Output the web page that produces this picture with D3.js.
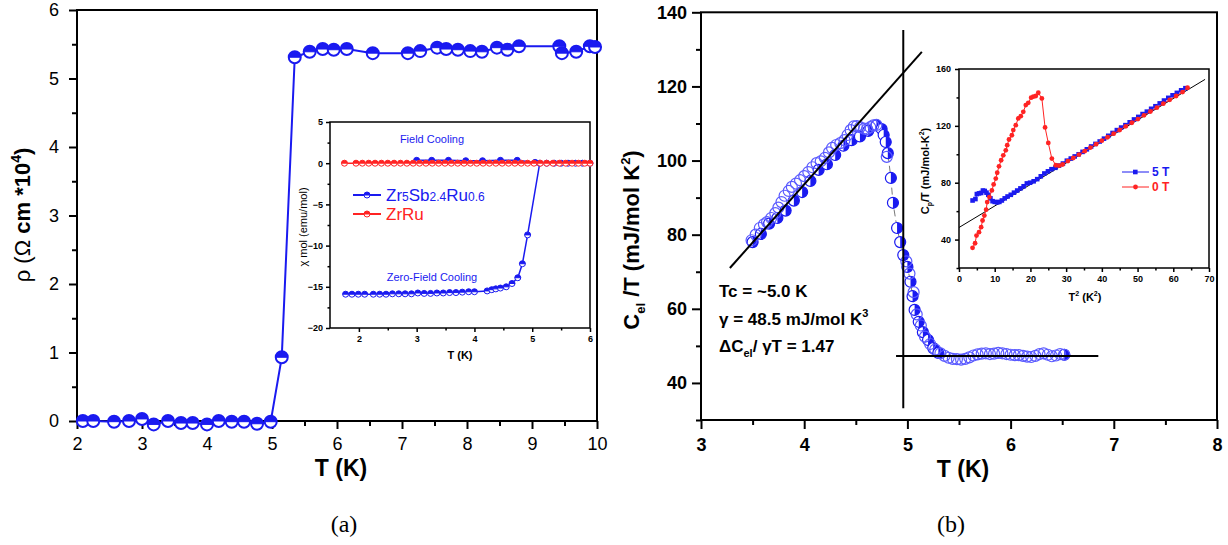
<!DOCTYPE html>
<html>
<head>
<meta charset="utf-8">
<script src="https://cdnjs.cloudflare.com/ajax/libs/d3/7.8.5/d3.min.js"></script>
<style>
  body { margin: 0; background: #fff; }
  text { font-family: "Liberation Sans", Arial, sans-serif; }
</style>
</head>
<body>
<div id="chart"></div>
<script>
// ---------- data: panel (a) resistivity ----------
var rhoT = [2.09, 2.25, 2.57, 2.8, 3.0, 3.18, 3.4, 3.6, 3.78, 4.0, 4.18, 4.38, 4.57, 4.77, 4.98,
    5.15, 5.35, 5.58, 5.78, 5.95, 6.15, 6.55, 7.09, 7.28, 7.54, 7.68, 7.86, 8.05, 8.23, 8.46, 8.62,
    8.8, 9.42, 9.46, 9.68, 9.89, 9.97];
var rhoV = [0.0, 0.0, -0.01, 0.0, 0.03, -0.05, 0.0, -0.03, -0.03, -0.05, 0.0, -0.01, -0.01, -0.04, -0.01,
    0.93, 5.31, 5.39, 5.43, 5.42, 5.43, 5.37, 5.37, 5.40, 5.45, 5.43, 5.42, 5.40, 5.39, 5.45, 5.42,
    5.47, 5.47, 5.37, 5.39, 5.47, 5.46];

// inset (a): susceptibility
var zfcT = [1.77, 1.88, 1.99, 2.1, 2.25, 2.36, 2.47, 2.58, 2.69, 2.8, 2.91, 3.02, 3.13, 3.24, 3.35,
    3.46, 3.57, 3.68, 3.79, 3.9, 4.0, 4.22, 4.3, 4.37, 4.45, 4.55, 4.65, 4.75, 4.83, 4.92, 5.13,
    5.25, 5.38, 5.5, 5.62, 5.75, 5.87, 6.0];
var zfcV = [-15.9, -15.9, -15.9, -15.9, -15.9, -15.9, -15.9, -15.85, -15.85, -15.85, -15.85, -15.75, -15.8, -15.8, -15.75,
    -15.75, -15.7, -15.7, -15.65, -15.6, -15.6, -15.5, -15.35, -15.25, -15.15, -15.0, -14.6, -13.9, -12.2, -8.7, 0.0,
    0.0, 0.0, 0.0, 0.0, 0.0, 0.0, 0.0];
var fcT = [3.0, 3.26, 3.55, 3.85, 4.14, 4.45, 4.74, 5.05];
var fcV = [0.35, 0.35, 0.35, 0.3, 0.3, 0.35, 0.35, 0.1];
var zrRuT = [1.75, 1.95, 2.06, 2.17, 2.28, 2.39, 2.5, 2.61, 2.72, 2.83, 2.94, 3.05, 3.16, 3.27, 3.38,
    3.49, 3.6, 3.71, 3.82, 3.93, 4.04, 4.15, 4.26, 4.37, 4.48, 4.59, 4.7, 4.81, 4.92, 5.03, 5.14,
    5.25, 5.36, 5.47, 5.58, 5.69, 5.8, 5.91, 6.0];
var zrRuV = [0, 0, 0, 0, 0, 0, 0, 0, 0, 0, 0, 0, 0, 0, 0,
    0, 0, 0, 0, 0, 0, 0, 0, 0, 0, 0, 0, 0, 0, 0, 0,
    0, 0, 0, 0, 0, 0, 0, 0];

// ---------- data: panel (b) specific heat ----------
var cFillT = [3.50, 3.58, 3.66, 3.74, 3.82, 3.90, 3.98, 4.06, 4.14, 4.22, 4.30, 4.38, 4.46, 4.54, 4.62,
    4.70, 4.75, 4.77, 4.79, 4.81, 4.84, 4.86, 4.90, 4.93, 4.96, 5.00, 5.03, 5.05, 5.07, 5.11, 5.15,
    5.20, 5.25, 5.30, 6.52];
var cFillV = [78.0, 80.2, 83.0, 84.5, 86.5, 89.2, 91.5, 94.5, 97.5, 99.0, 101.5, 104.0, 105.5, 106.5, 108.0,
    109.5, 108.5, 106.9, 105.0, 102.0, 95.3, 88.6, 81.8, 78.0, 74.5, 71.3, 67.3, 63.4, 59.7, 56.5, 53.7,
    51.6, 49.4, 48.1, 47.6];
var cOpenT = [3.49, 3.53, 3.57, 3.61, 3.64, 3.68, 3.72, 3.75, 3.78, 3.81, 3.85, 3.88, 3.92, 3.96, 4.00,
    4.04, 4.08, 4.12, 4.16, 4.20, 4.24, 4.27, 4.31, 4.35, 4.39, 4.42, 4.45, 4.48, 4.51, 4.54, 4.58,
    4.61, 4.64, 4.67, 4.70, 4.80, 4.99, 5.02, 5.06, 5.09, 5.13, 5.17, 5.22, 5.27, 5.32, 5.36, 5.40,
    5.44, 5.48, 5.52, 5.56, 5.60, 5.64, 5.68, 5.72, 5.76, 5.80, 5.84, 5.88, 5.92, 5.96, 6.00, 6.04,
    6.08, 6.12, 6.16, 6.20, 6.24, 6.28, 6.32, 6.36, 6.40, 6.44, 6.48, 6.52];
var cOpenV = [78.5, 80.0, 81.8, 82.8, 83.4, 84.5, 85.8, 87.3, 88.8, 90.5, 91.8, 92.9, 93.8, 94.7, 95.8,
    96.9, 98.2, 99.3, 99.8, 100.7, 102.2, 103.4, 104.2, 104.7, 105.5, 106.9, 108.2, 109.2, 109.3, 109.0, 108.6,
    108.5, 109.0, 109.5, 109.6, 101.0, 72.8, 69.5, 64.5, 58.5, 55.5, 52.5, 50.5, 49.0, 48.0, 47.3, 46.8,
    46.5, 46.4, 46.3, 46.5, 46.9, 47.4, 47.7, 47.9, 48.0, 47.8, 47.9, 48.1, 48.0, 47.8, 47.6, 47.5,
    47.5, 47.3, 47.1, 47.0, 47.3, 47.8, 48.0, 47.6, 47.2, 47.4, 47.8, 47.6];
var fitT = [3.28, 5.14], fitV = [71.0, 129.3];
var tcLineT = [4.96, 4.96], tcLineV = [33.2, 135.2];
var normLineT = [4.89, 6.85], normLineV = [47.3, 47.3];

// inset (b): Cp/T vs T^2
var zeroT2 = [3.8, 4.5, 4.9, 5.6, 6.2, 6.6, 7.1, 7.6, 7.9, 8.5, 9.2, 9.7, 10.3, 10.7, 11.2, 11.8, 12.4,
    13.1, 13.5, 14.0, 14.8, 15.2, 15.9, 16.6, 17.3, 18.0, 18.7, 19.4, 20.2, 20.8, 21.5, 22.2, 23.2,
    24.1, 25.0, 26.0, 27.1, 28.0, 29.0, 30.5, 32.0, 33.6, 35.2, 36.8, 38.4, 40.0, 41.6, 43.3, 45.0,
    46.7, 48.4, 50.1, 51.8, 53.6, 55.4, 57.2, 59.0, 60.8, 62.6, 64.0];
var zeroV = [34.2, 37.4, 42.8, 45.2, 48.7, 53.4, 56.9, 61.0, 66.4, 69.9, 74.6, 78.8, 82.9, 87.0, 91.5, 95.8, 99.3,
    102.8, 106.4, 110.4, 113.4, 117.0, 120.5, 125.2, 126.8, 129.9, 134.6, 136.2, 139.8, 140.5, 141.0, 143.3, 139.3,
    118.9, 108.0, 97.0, 92.3, 92.0, 92.8, 95.2, 97.4, 99.8, 102.2, 104.7, 107.1, 109.6, 112.0, 114.5, 117.1,
    119.7, 122.2, 124.8, 127.4, 130.1, 132.8, 135.6, 138.3, 141.0, 143.8, 146.8];
var fiveT2 = [3.8, 4.6, 5.0, 5.6, 6.2, 6.7, 7.2, 7.7, 8.2, 8.8, 9.4, 10.0, 10.7, 11.3, 12.0, 12.8, 13.6,
    14.5, 15.4, 16.3, 17.2, 18.1, 19.0, 19.9, 20.9, 21.9, 22.9, 23.9, 24.9, 25.9, 27.0, 28.0, 29.1,
    30.2, 31.3, 32.4, 33.5, 34.6, 35.8, 37.0, 38.2, 39.4, 40.6, 41.8, 43.0, 44.2, 45.4, 46.6, 47.8,
    49.0, 50.2, 51.4, 52.6, 53.8, 55.0, 56.2, 57.4, 58.6, 59.8, 61.0, 62.2, 63.4];
var fiveV = [67.5, 68.5, 72.0, 72.5, 72.8, 74.5, 74.2, 73.0, 71.5, 69.0, 67.0, 66.5, 66.2, 66.5, 67.5, 69.0, 70.3,
    71.5, 73.0, 74.5, 76.0, 77.5, 79.5, 80.0, 81.0, 82.5, 84.5, 86.5, 88.0, 89.5, 90.5, 92.0, 93.5,
    95.5, 97.0, 98.5, 100.0, 101.7, 103.5, 105.5, 107.3, 109.0, 111.0, 113.0, 115.0, 117.0, 118.8, 120.5, 122.5,
    124.5, 126.3, 128.3, 130.0, 132.0, 133.8, 135.8, 137.8, 139.7, 141.5, 143.2, 145.0, 146.5];
var gammaFitT2 = [0, 68.9], gammaFitV = [48.5, 152.7];

// tick values
var aXTicks = [2, 3, 4, 5, 6, 7, 8, 9, 10], aXMinor = [2.5, 3.5, 4.5, 5.5, 6.5, 7.5, 8.5, 9.5];
var aYTicks = [0, 1, 2, 3, 4, 5, 6], aYMinor = [0.5, 1.5, 2.5, 3.5, 4.5, 5.5];
var iaXTicks = [2, 3, 4, 5, 6], iaXMinor = [2.5, 3.5, 4.5, 5.5];
var iaYTicks = [5, 0, -5, -10, -15, -20], iaYMinor = [2.5, -2.5, -7.5, -12.5, -17.5];
var bXTicks = [3, 4, 5, 6, 7, 8], bXMinor = [3.5, 4.5, 5.5, 6.5, 7.5];
var bYTicks = [40, 60, 80, 100, 120, 140], bYMinor = [30, 50, 70, 90, 110, 130];
var ibXTicks = [0, 10, 20, 30, 40, 50, 60, 70], ibXMinor = [5, 15, 25, 35, 45, 55, 65];
var ibYTicks = [40, 80, 120, 160], ibYMinor = [20, 60, 100, 140];

var blue = "#1a1af0", lightBlue = "#5a5aff", red = "#ff2323";

var svg = d3.select("#chart").append("svg")
    .attr("width", 1228).attr("height", 545)
    .style("background", "#fff");

function zip(a, b) { return a.map((v, i) => [v, b[i]]); }

var fmt = d3.format("~g");

// draw a frame + major/minor ticks
function drawAxes(g, x, y, o) {
    var xr = x.range(), yr = y.range();
    var gx = g.append("g").attr("transform", `translate(0,${yr[0]})`)
        .call(d3.axisBottom(x).tickValues(o.xTicks).tickFormat(fmt).tickSize(o.major).tickPadding(o.xPad));
    g.append("g").attr("transform", `translate(0,${yr[0]})`)
        .call(d3.axisBottom(x).tickValues(o.xMinor).tickSize(o.minor).tickFormat(""));
    var gy = g.append("g").attr("transform", `translate(${xr[0]},0)`)
        .call(d3.axisLeft(y).tickValues(o.yTicks).tickFormat(fmt).tickSize(o.major).tickPadding(o.yPad));
    g.append("g").attr("transform", `translate(${xr[0]},0)`)
        .call(d3.axisLeft(y).tickValues(o.yMinor).tickSize(o.minor).tickFormat(""));
    g.selectAll(".domain").remove();
    g.selectAll(".tick line").attr("stroke", "#000").attr("stroke-width", o.sw);
    [gx, gy].forEach(a => a.selectAll("text")
        .style("font-size", o.fs + "px")
        .style("font-weight", o.bold ? "bold" : "normal")
        .attr("fill", "#000"));
    g.append("rect")
        .attr("x", xr[0]).attr("y", yr[1])
        .attr("width", xr[1] - xr[0]).attr("height", yr[0] - yr[1])
        .attr("fill", "none").attr("stroke", "#000").attr("stroke-width", o.sw);
}

function halfMarks(g, pts, x, y, r, col, half, sw) {
    var arc = half == "top"
        ? `M${-r},0 A${r},${r} 0 0 1 ${r},0 Z`
        : `M0,${-r} A${r},${r} 0 0 1 0,${r} Z`;
    var m = g.selectAll(null).data(pts).enter().append("g")
        .attr("transform", d => `translate(${x(d[0])},${y(d[1])})`);
    m.append("circle").attr("r", r).attr("fill", "#fff").attr("stroke", col).attr("stroke-width", sw);
    m.append("path").attr("d", arc).attr("fill", col);
    if (half == "top") {
        m.append("line").attr("x1", -r).attr("x2", r).attr("stroke", col).attr("stroke-width", 1);
    }
}

// ================= panel (a) =================
var xa = d3.scaleLinear().domain([2, 10]).range([77, 597]);
var ya = d3.scaleLinear().domain([0, 6]).range([421, 10]);
var ga = svg.append("g");
drawAxes(ga, xa, ya, {
    xTicks: aXTicks, xMinor: aXMinor, yTicks: aYTicks, yMinor: aYMinor,
    major: 8, minor: 5, xPad: 8, yPad: 10, sw: 2, fs: 18, bold: false
});
var rhoPts = zip(rhoT, rhoV);
ga.append("path").datum(rhoPts)
    .attr("d", d3.line().x(d => xa(d[0])).y(d => ya(d[1])))
    .attr("fill", "none").attr("stroke", blue).attr("stroke-width", 2);
halfMarks(ga, rhoPts, xa, ya, 6, blue, "top", 2);

ga.append("text").attr("x", 341).attr("y", 476).attr("text-anchor", "middle")
    .style("font-size", "23px").style("font-weight", "bold").text("T (K)");
var yla = ga.append("text").attr("transform", "translate(30,215) rotate(-90)")
    .attr("text-anchor", "middle").style("font-size", "22px");
yla.append("tspan").text("ρ (Ω ");
yla.append("tspan").style("font-weight", "bold").text("cm *10");
yla.append("tspan").style("font-weight", "bold").style("font-size", "14px").attr("dy", -9).text("4");
yla.append("tspan").style("font-weight", "bold").attr("dy", 9).text(")");

// inset (a)
var xia = d3.scaleLinear().domain([1.5, 6]).range([330, 590]);
var yia = d3.scaleLinear().domain([-20, 5]).range([328, 122]);
var gia = svg.append("g");
gia.append("rect").attr("x", 330).attr("y", 122).attr("width", 260).attr("height", 206).attr("fill", "#fff");
drawAxes(gia, xia, yia, {
    xTicks: iaXTicks, xMinor: iaXMinor, yTicks: iaYTicks, yMinor: iaYMinor,
    major: 4, minor: 2.5, xPad: 4, yPad: 3, sw: 1.5, fs: 9, bold: true
});
var lineIa = d3.line().x(d => xia(d[0])).y(d => yia(d[1]));
var zrRuPts = zip(zrRuT, zrRuV), zfcPts = zip(zfcT, zfcV), fcPts = zip(fcT, fcV);
gia.append("path").datum(fcPts).attr("d", lineIa).attr("fill", "none").attr("stroke", blue).attr("stroke-width", 1.5);
gia.append("path").datum(zfcPts).attr("d", lineIa).attr("fill", "none").attr("stroke", blue).attr("stroke-width", 1.5);
gia.append("path").datum(zrRuPts).attr("d", lineIa).attr("fill", "none").attr("stroke", red).attr("stroke-width", 1.5);
halfMarks(gia, fcPts, xia, yia, 3, blue, "top", 1);
halfMarks(gia, zfcPts, xia, yia, 3, blue, "top", 1);
halfMarks(gia, zrRuPts, xia, yia, 3, red, "top", 1);

gia.append("text").attr("x", 432).attr("y", 143).attr("text-anchor", "middle")
    .attr("fill", blue).style("font-size", "11px").text("Field Cooling");
gia.append("text").attr("x", 432).attr("y", 281).attr("text-anchor", "middle")
    .attr("fill", blue).style("font-size", "11px").text("Zero-Field Cooling");
gia.append("text").attr("x", 460).attr("y", 359).attr("text-anchor", "middle")
    .style("font-size", "11px").style("font-weight", "bold").text("T (K)");
gia.append("text").attr("transform", "translate(307,227) rotate(-90)").attr("text-anchor", "middle")
    .style("font-size", "11px").text("χ mol (emu/mol)");

// legend (a)
[[195, blue], [214, red]].forEach(function (l) {
    gia.append("line").attr("x1", 353).attr("x2", 381).attr("y1", l[0]).attr("y2", l[0])
        .attr("stroke", l[1]).attr("stroke-width", 2);
    halfMarks(gia, [[0, 0]], v => 367, v => l[0], 3, l[1], "top", 1);
});
var lg1 = gia.append("text").attr("x", 386).attr("y", 201).attr("fill", blue).style("font-size", "17px");
[["Zr", 17], ["5", 12], ["Sb", 17], ["2.4", 12], ["Ru", 17], ["0.6", 12]].forEach(function (p) {
    lg1.append("tspan").style("font-size", p[1] + "px").text(p[0]);
});
gia.append("text").attr("x", 386).attr("y", 220).attr("fill", red).style("font-size", "17px").text("ZrRu");

// ================= panel (b) =================
var xb = d3.scaleLinear().domain([3, 8]).range([701, 1217]);
var yb = d3.scaleLinear().domain([30, 140]).range([420, 12.3]);
var gb = svg.append("g");
drawAxes(gb, xb, yb, {
    xTicks: bXTicks, xMinor: bXMinor, yTicks: bYTicks, yMinor: bYMinor,
    major: 9, minor: 5, xPad: 9, yPad: 5, sw: 2, fs: 18, bold: true
});
var lineB = d3.line().x(d => xb(d[0])).y(d => yb(d[1]));
var fillPts = zip(cFillT, cFillV), openPts = zip(cOpenT, cOpenV);
gb.append("path").datum(fillPts.filter(d => d[0] >= 4.7 && d[0] <= 5.3)).attr("d", lineB)
    .attr("fill", "none").attr("stroke", "#555").attr("stroke-width", 0.8).attr("stroke-dasharray", "7,4");
halfMarks(gb, fillPts, xb, yb, 5.5, blue, "right", 1.2);
gb.selectAll(null).data(openPts).enter().append("circle")
    .attr("cx", d => xb(d[0])).attr("cy", d => yb(d[1])).attr("r", 5.5)
    .attr("fill", "none").attr("stroke", lightBlue).attr("stroke-width", 1.2);

[[fitT, fitV], [tcLineT, tcLineV], [normLineT, normLineV]].forEach(function (l) {
    gb.append("path").datum(zip(l[0], l[1])).attr("d", lineB)
        .attr("fill", "none").attr("stroke", "#000").attr("stroke-width", 2);
});

gb.append("text").attr("x", 963).attr("y", 477).attr("text-anchor", "middle")
    .style("font-size", "23px").style("font-weight", "bold").text("T (K)");
var ylb = gb.append("text").attr("transform", "translate(639,240) rotate(-90)")
    .attr("text-anchor", "middle").style("font-size", "22px").style("font-weight", "bold");
ylb.append("tspan").text("C");
ylb.append("tspan").style("font-size", "13px").attr("dy", 6).text("el");
ylb.append("tspan").attr("dy", -6).text(" /T  (mJ/mol K");
ylb.append("tspan").style("font-size", "13px").attr("dy", -9).text("2");
ylb.append("tspan").attr("dy", 9).text(")");

var ann = { fs: "17px" };
gb.append("text").attr("x", 719).attr("y", 297).style("font-size", ann.fs).style("font-weight", "bold")
    .text("Tc = ~5.0 K");
var t2 = gb.append("text").attr("x", 719).attr("y", 325).style("font-size", ann.fs).style("font-weight", "bold");
t2.append("tspan").text("γ = 48.5 mJ/mol K");
t2.append("tspan").style("font-size", "11px").attr("dy", -8).text("3");
var t3 = gb.append("text").attr("x", 719).attr("y", 352).style("font-size", ann.fs).style("font-weight", "bold");
t3.append("tspan").text("ΔC");
t3.append("tspan").style("font-size", "11px").attr("dy", 5).text("el");
t3.append("tspan").attr("dy", -5).text("/ γT = 1.47");

// inset (b)
var xib = d3.scaleLinear().domain([0, 70]).range([959, 1209]);
var yib = d3.scaleLinear().domain([20, 160]).range([268, 69]);
var gib = svg.append("g");
gib.append("rect").attr("x", 959).attr("y", 69).attr("width", 250).attr("height", 199).attr("fill", "#fff");
drawAxes(gib, xib, yib, {
    xTicks: ibXTicks, xMinor: ibXMinor, yTicks: ibYTicks, yMinor: ibYMinor,
    major: 4, minor: 2.5, xPad: 4, yPad: 4, sw: 1.5, fs: 9, bold: true
});
var lineIb = d3.line().x(d => xib(d[0])).y(d => yib(d[1]));
gib.append("path").datum(zip(gammaFitT2, gammaFitV)).attr("d", lineIb)
    .attr("fill", "none").attr("stroke", "#000").attr("stroke-width", 1);
var fivePts = zip(fiveT2, fiveV), zeroPts = zip(zeroT2, zeroV);
gib.append("path").datum(fivePts).attr("d", lineIb).attr("fill", "none").attr("stroke", blue).attr("stroke-width", 1);
gib.selectAll(null).data(fivePts).enter().append("rect")
    .attr("x", d => xib(d[0]) - 2.3).attr("y", d => yib(d[1]) - 2.3)
    .attr("width", 4.6).attr("height", 4.6).attr("fill", blue);
gib.append("path").datum(zeroPts).attr("d", lineIb).attr("fill", "none").attr("stroke", red).attr("stroke-width", 1);
gib.selectAll(null).data(zeroPts).enter().append("circle")
    .attr("cx", d => xib(d[0])).attr("cy", d => yib(d[1])).attr("r", 2.4).attr("fill", red);

// legend (b)
gib.append("line").attr("x1", 1122).attr("x2", 1149).attr("y1", 172).attr("y2", 172).attr("stroke", blue).attr("stroke-width", 1);
gib.append("rect").attr("x", 1133).attr("y", 169.7).attr("width", 4.6).attr("height", 4.6).attr("fill", blue);
gib.append("text").attr("x", 1152).attr("y", 176).attr("fill", blue).style("font-size", "12px").style("font-weight", "bold").text("5 T");
gib.append("line").attr("x1", 1122).attr("x2", 1149).attr("y1", 187).attr("y2", 187).attr("stroke", red).attr("stroke-width", 1);
gib.append("circle").attr("cx", 1135.5).attr("cy", 187).attr("r", 2.4).attr("fill", red);
gib.append("text").attr("x", 1152).attr("y", 191).attr("fill", red).style("font-size", "12px").style("font-weight", "bold").text("0 T");

gib.append("text").attr("x", 1085).attr("y", 301).attr("text-anchor", "middle")
    .style("font-size", "11px").style("font-weight", "bold")
    .call(t => {
        t.append("tspan").text("T");
        t.append("tspan").style("font-size", "7px").attr("dy", -5).text("2");
        t.append("tspan").attr("dy", 5).text(" (K");
        t.append("tspan").style("font-size", "7px").attr("dy", -5).text("2");
        t.append("tspan").attr("dy", 5).text(")");
    });
gib.append("text").attr("transform", "translate(929,171) rotate(-90)").attr("text-anchor", "middle")
    .style("font-size", "11px").style("font-weight", "bold")
    .call(t => {
        t.append("tspan").text("C");
        t.append("tspan").style("font-size", "7px").attr("dy", 3).text("p");
        t.append("tspan").attr("dy", -3).text("/T (mJ/mol-K");
        t.append("tspan").style("font-size", "7px").attr("dy", -5).text("2");
        t.append("tspan").attr("dy", 5).text(")");
    });

// panel captions
svg.append("text").attr("x", 344).attr("y", 532).attr("text-anchor", "middle")
    .style("font-family", "'Liberation Serif', 'Times New Roman', serif").style("font-size", "24px").text("(a)");
svg.append("text").attr("x", 951).attr("y", 532).attr("text-anchor", "middle")
    .style("font-family", "'Liberation Serif', 'Times New Roman', serif").style("font-size", "24px").text("(b)");
</script>
</body>
</html>
